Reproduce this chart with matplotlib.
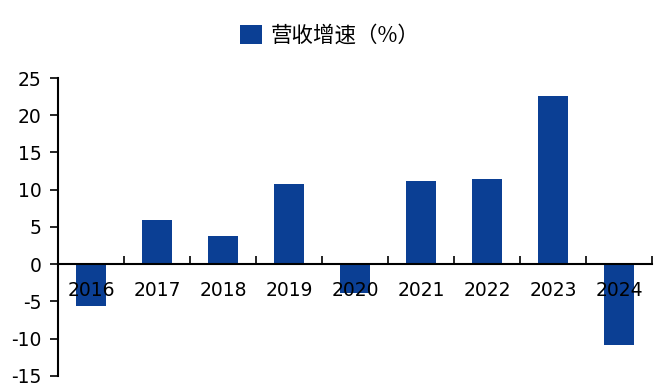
import matplotlib.pyplot as plt
import numpy as np

years = ["2016", "2017", "2018", "2019", "2020", "2021", "2022", "2023", "2024"]
growth = [-5.6, 6.0, 3.8, 10.8, -3.8, 11.2, 11.4, 22.6, -10.8]
y_ticks = [-15, -10, -5, 0, 5, 10, 15, 20, 25]
legend_label = "营收增速（%）"

BAR_COLOR = "#0b3f94"

plt.rcParams["font.family"] = ["DejaVu Sans", "Noto Sans CJK SC"]

fig = plt.figure(figsize=(6.67, 3.92), dpi=100)
ax = fig.add_axes([0.087, 0.041, 0.891, 0.760])

x = np.arange(len(years))
ax.bar(x, growth, width=0.46, color=BAR_COLOR, label=legend_label, zorder=1)

ax.set_xlim(-0.5, len(years) - 0.5)
ax.set_ylim(-15, 25)
ax.set_yticks(y_ticks)
ax.set_yticklabels([str(v) for v in y_ticks])

# category labels at centers, tick marks at category boundaries
ax.set_xticks(x)
ax.set_xticklabels(years)
ax.set_xticks(np.arange(len(years) + 1) - 0.5, minor=True)
ax.tick_params(axis="x", which="major", length=0, pad=12, labelsize=13.5)
ax.tick_params(axis="x", which="minor", direction="in", length=6, width=1.2)
ax.tick_params(axis="y", direction="out", length=6, width=1.2, pad=6, labelsize=13.5)

ax.spines["top"].set_visible(False)
ax.spines["right"].set_visible(False)
ax.spines["bottom"].set_position(("data", 0))
ax.spines["bottom"].set_linewidth(1.5)
ax.spines["bottom"].set_zorder(3)
ax.spines["left"].set_linewidth(1.5)

for lbl in ax.get_xticklabels():
    lbl.set_zorder(4)

fig.legend(
    loc="center",
    bbox_to_anchor=(330 / 667, 1 - 36 / 392),
    frameon=False,
    prop={"family": ["Noto Sans CJK SC", "DejaVu Sans"], "size": 15.5},
    handlelength=1.0,
    handleheight=1.0,
    handletextpad=0.4,
)

fig.savefig("out.png", dpi=100)
